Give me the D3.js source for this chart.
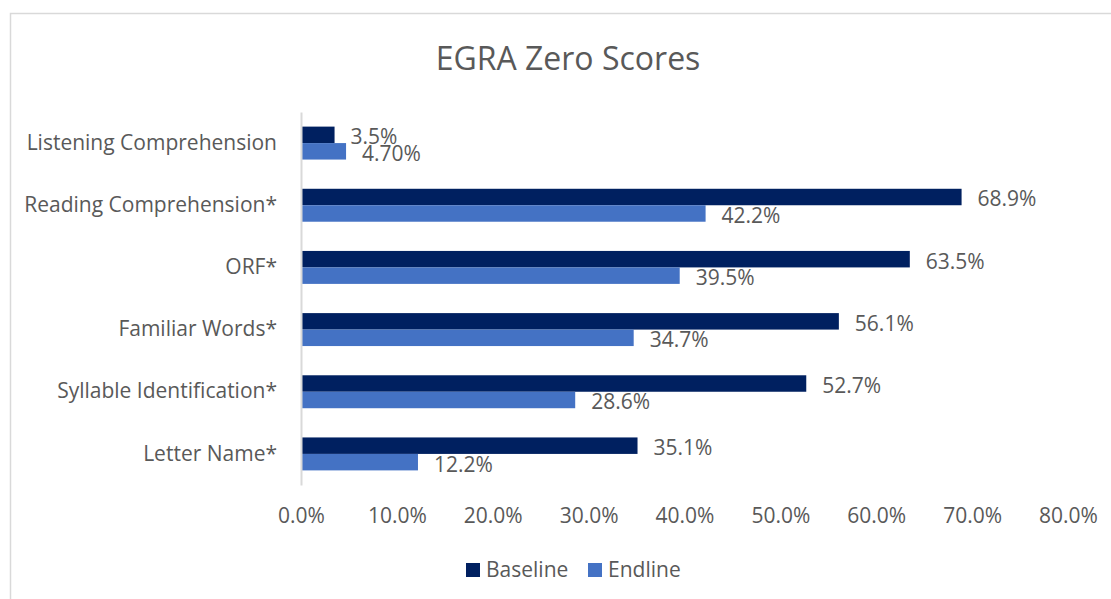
<!DOCTYPE html>
<html>
<head>
<meta charset="utf-8">
<script src="https://cdn.jsdelivr.net/npm/d3@7"></script>
<style>
  body { margin: 0; background: #fff; }
  svg text { font-family: 'Open Sans', sans-serif; fill: #595959; }
</style>
</head>
<body>
<div id="chart-container"></div>
<script>
const categories = [
  'Listening Comprehension',
  'Reading Comprehension*',
  'ORF*',
  'Familiar Words*',
  'Syllable Identification*',
  'Letter Name*',
];
const seriesNames = ['Baseline', 'Endline'];
const baseline = [0.035, 0.689, 0.635, 0.561, 0.527, 0.351];
const endline = [0.047, 0.422, 0.395, 0.347, 0.286, 0.122];
const baselineLabels = ['3.5%', '68.9%', '63.5%', '56.1%', '52.7%', '35.1%'];
const endlineLabels = ['4.70%', '42.2%', '39.5%', '34.7%', '28.6%', '12.2%'];
const xTicks = [0, 0.1, 0.2, 0.3, 0.4, 0.5, 0.6, 0.7, 0.8];

const colours = { Baseline: '#002060', Endline: '#4472C4' };

//chart dimensions
const svgWidth = 1111;
const svgHeight = 599;
const plotLeft = 301;
const plotRight = 1068;
const plotTop = 112;
const plotBottom = 485;
const fontSize = '21px';

const rows = [];
categories.forEach((c, i) => {
  rows.push({ category: c, series: 'Baseline', value: baseline[i], label: baselineLabels[i] });
  rows.push({ category: c, series: 'Endline', value: endline[i], label: endlineLabels[i] });
});

const xScale = d3.scaleLinear().domain([0, 0.8]).range([plotLeft, plotRight]);
const yScale = d3
  .scaleBand()
  .domain(categories)
  .range([plotTop, plotBottom])
  .paddingInner(0.47)
  .paddingOuter(0.235);
const ySub = d3.scaleBand().domain(seriesNames).range([0, yScale.bandwidth()]);

const svg = d3
  .create('svg')
  .attr('width', svgWidth)
  .attr('height', svgHeight)
  .attr('viewBox', [0, 0, svgWidth, svgHeight]);

// chart border
svg
  .append('rect')
  .attr('x', 10.5)
  .attr('y', 13.5)
  .attr('width', svgWidth + 20)
  .attr('height', svgHeight + 20)
  .attr('fill', 'white')
  .attr('stroke', '#d9d9d9')
  .attr('stroke-width', 1.5);

// title
svg
  .append('text')
  .attr('x', 568)
  .attr('y', 70)
  .attr('text-anchor', 'middle')
  .attr('font-size', '32px')
  .text('EGRA Zero Scores');

// bars
svg
  .append('g')
  .selectAll('rect')
  .data(rows)
  .join('rect')
  .attr('x', xScale(0))
  .attr('y', (d) => yScale(d.category) + ySub(d.series))
  .attr('width', (d) => xScale(d.value) - xScale(0))
  .attr('height', ySub.bandwidth())
  .attr('fill', (d) => colours[d.series]);

// data labels
svg
  .append('g')
  .selectAll('text')
  .data(rows)
  .join('text')
  .attr('x', (d) => xScale(d.value) + 16)
  .attr('y', (d) => yScale(d.category) + ySub(d.series) + ySub.bandwidth() / 2 + 2)
  .attr('dy', '0.35em')
  .attr('font-size', fontSize)
  .text((d) => d.label);

// x axis
svg
  .append('g')
  .attr('transform', `translate(0,${plotBottom})`)
  .call(d3.axisBottom(xScale).tickValues(xTicks).tickFormat(d3.format('.1%')).tickSize(0).tickPadding(23))
  .call((g) => g.select('.domain').remove())
  .call((g) => g.selectAll('text').attr('font-size', fontSize).attr('font-family', null).attr('fill', null));

// y axis
svg
  .append('g')
  .attr('transform', `translate(${plotLeft},0)`)
  .call(d3.axisLeft(yScale).tickSize(0).tickPadding(24))
  .call((g) => g.select('.domain').attr('stroke', '#d9d9d9').attr('stroke-width', 2))
  .call((g) => g.selectAll('text').attr('font-size', fontSize).attr('font-family', null).attr('fill', null));

// legend
const legend = svg
  .append('g')
  .selectAll('g')
  .data(seriesNames)
  .join('g')
  .attr('transform', (d, i) => `translate(${466 + i * 122},563)`);
legend
  .append('rect')
  .attr('width', 14)
  .attr('height', 14)
  .attr('fill', (d) => colours[d]);
legend
  .append('text')
  .attr('x', 20)
  .attr('y', 7)
  .attr('dy', '0.35em')
  .attr('font-size', fontSize)
  .text((d) => d);

document.querySelector('#chart-container').append(svg.node());
</script>
</body>
</html>
